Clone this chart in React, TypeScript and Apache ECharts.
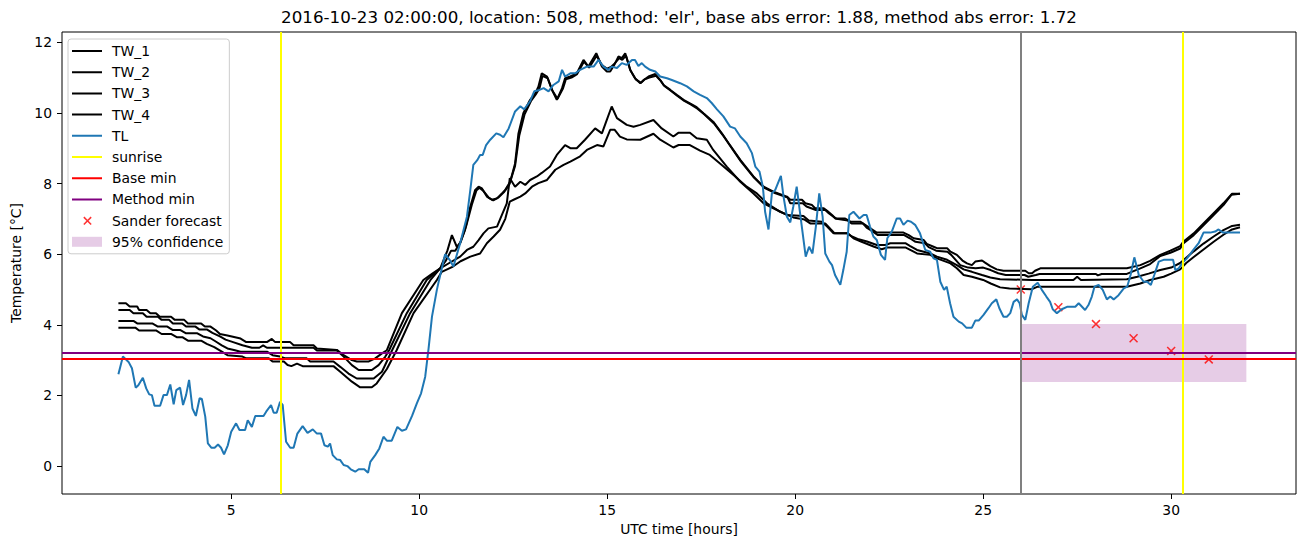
import React, { useEffect, useRef } from 'react';
import * as echarts from 'echarts';

const titleText = "2016-10-23 02:00:00, location: 508, method: 'elr', base abs error: 1.88, method abs error: 1.72";
const xTicks = [5, 10, 15, 20, 25, 30];
const yTicks = [0, 2, 4, 6, 8, 10, 12];

const tw1 = [[2,4.61],[2.2,4.61],[2.3,4.52],[2.5,4.52],[2.55,4.42],[2.75,4.42],[2.85,4.33],[3.0,4.33],[3.1,4.23],[3.4,4.23],[3.5,4.14],[3.75,4.14],[3.85,4.04],[4.2,4.04],[4.3,3.95],[4.45,3.95],[4.6,3.84],[4.7,3.74],[4.9,3.7],[5.25,3.61],[5.4,3.51],[5.95,3.51],[6.08,3.6],[6.17,3.51],[6.57,3.51],[6.66,3.42],[7.19,3.42],[7.28,3.33],[7.81,3.29],[7.99,3.14],[8.21,3.0],[8.34,2.96],[8.65,2.96],[8.83,3.05],[9.01,3.19],[9.14,3.28],[9.54,4.33],[10.11,5.27],[10.35,5.45],[10.56,5.6],[10.75,6.1],[10.87,6.54],[11.0,6.21],[11.09,6.31],[11.22,6.69],[11.36,7.35],[11.49,7.82],[11.58,7.91],[11.67,7.86],[11.8,7.63],[11.93,7.54],[12.07,7.58],[12.2,7.72],[12.29,7.82],[12.42,8.05],[12.55,8.57],[12.64,9.42],[12.77,9.99],[12.95,10.37],[13.09,10.56],[13.17,10.74],[13.26,11.12],[13.4,11.03],[13.53,10.65],[13.66,10.37],[13.8,10.7],[13.88,10.98],[14.02,11.03],[14.19,11.12],[14.37,11.5],[14.5,11.31],[14.71,11.69],[14.86,11.31],[14.99,11.17],[15.08,11.17],[15.19,11.36],[15.3,11.6],[15.39,11.55],[15.48,11.69],[15.61,11.22],[15.74,10.98],[15.88,10.84],[15.97,10.93],[16.1,11.03],[16.28,11.1],[16.41,10.93],[16.5,10.79],[16.68,10.65],[16.85,10.51],[17.03,10.37],[17.2,10.27],[17.38,10.16],[17.56,9.99],[17.82,9.75],[18.05,9.42],[18.23,9.14],[18.54,8.67],[18.89,8.2],[19.16,7.91],[19.42,7.77],[19.78,7.63],[19.87,7.54],[20.18,7.54],[20.27,7.44],[20.45,7.39],[20.53,7.3],[20.76,7.3],[20.85,7.23],[20.98,7.11],[21.07,7.01],[21.33,7.01],[21.47,6.92],[21.73,6.92],[21.86,6.83],[22.0,6.73],[22.17,6.61],[22.88,6.61],[23.02,6.54],[23.15,6.45],[23.42,6.4],[23.5,6.29],[23.68,6.21],[23.77,6.17],[24.04,6.17],[24.13,6.07],[24.3,5.98],[24.45,5.82],[24.57,5.74],[24.7,5.69],[24.79,5.79],[24.97,5.82],[25.05,5.76],[25.19,5.66],[25.36,5.57],[25.54,5.53],[26.12,5.53],[26.21,5.46],[26.3,5.46],[26.38,5.53],[26.52,5.6],[28.82,5.6],[29.18,5.69],[29.44,5.81],[29.71,5.98],[29.98,6.1],[30.24,6.23],[30.33,6.36],[30.6,6.59],[30.86,6.87],[31.13,7.16],[31.39,7.44],[31.62,7.71],[31.83,7.71]];

const tw2 = [[2,4.42],[2.3,4.42],[2.4,4.33],[2.65,4.33],[2.75,4.23],[3.05,4.23],[3.15,4.14],[3.35,4.14],[3.45,4.04],[3.7,4.04],[3.8,3.95],[4.05,3.95],[4.15,3.87],[4.35,3.87],[4.5,3.77],[4.7,3.67],[4.85,3.58],[5.05,3.51],[5.3,3.42],[5.55,3.35],[5.75,3.35],[5.85,3.42],[5.95,3.35],[7.19,3.35],[7.28,3.27],[7.81,3.27],[7.99,3.1],[8.21,2.86],[8.39,2.72],[8.74,2.72],[8.92,2.86],[9.1,3.1],[9.2,3.28],[9.67,4.33],[10.2,5.27],[10.56,5.6],[10.7,5.8],[10.85,6.1],[10.96,6.1],[11.1,6.35],[11.25,6.8],[11.4,7.4],[11.52,7.8],[11.6,7.88],[11.7,7.8],[11.85,7.6],[11.97,7.52],[12.1,7.6],[12.25,7.75],[12.4,7.98],[12.55,8.5],[12.66,9.35],[12.8,9.95],[12.97,10.33],[13.1,10.52],[13.2,10.7],[13.28,11.05],[13.42,10.98],[13.55,10.62],[13.68,10.4],[13.82,10.68],[13.9,10.95],[14.05,11.0],[14.2,11.1],[14.38,11.45],[14.52,11.28],[14.72,11.62],[14.86,11.35],[15.0,11.25],[15.1,11.3],[15.2,11.4],[15.32,11.55],[15.4,11.5],[15.5,11.62],[15.62,11.2],[15.76,10.95],[15.9,10.85],[16.0,10.95],[16.12,11.0],[16.3,11.05],[16.43,10.9],[16.52,10.76],[16.7,10.62],[16.87,10.48],[17.05,10.34],[17.22,10.24],[17.4,10.12],[17.58,9.96],[17.84,9.7],[18.07,9.38],[18.25,9.1],[18.56,8.62],[18.91,8.16],[19.18,7.88],[19.44,7.74],[19.8,7.6],[19.87,7.44],[20.2,7.44],[20.3,7.35],[20.55,7.25],[20.8,7.25],[20.9,7.15],[21.1,7.0],[21.4,6.95],[21.5,6.87],[21.8,6.87],[21.9,6.75],[22.05,6.65],[22.2,6.54],[22.9,6.54],[23.05,6.45],[23.2,6.35],[23.45,6.31],[23.55,6.2],[23.75,6.1],[24.05,6.07],[24.15,5.98],[24.39,5.69],[24.6,5.62],[24.8,5.6],[25.0,5.62],[25.2,5.55],[25.4,5.46],[25.6,5.41],[26.1,5.41],[26.2,5.36],[26.4,5.41],[26.5,5.44],[28.0,5.44],[28.05,5.4],[28.15,5.44],[28.82,5.44],[29.18,5.6],[29.44,5.72],[29.71,5.95],[29.98,6.04],[30.24,6.16],[30.33,6.31],[30.6,6.54],[30.86,6.82],[31.13,7.11],[31.39,7.39],[31.6,7.68],[31.83,7.71]];

const tw3 = [[2,4.11],[2.4,4.11],[2.5,4.04],[2.9,4.04],[3.05,3.95],[3.3,3.95],[3.45,3.85],[3.65,3.85],[3.8,3.76],[4.1,3.76],[4.25,3.67],[4.45,3.62],[4.6,3.52],[4.75,3.42],[4.9,3.33],[5.1,3.28],[5.25,3.24],[5.95,3.24],[6.1,3.14],[6.3,3.1],[6.45,3.05],[7.01,3.05],[7.1,2.96],[7.72,2.96],[7.9,2.81],[8.12,2.62],[8.34,2.48],[8.79,2.48],[9.01,2.67],[9.28,3.28],[9.76,4.33],[10.3,5.27],[10.56,5.6],[10.8,5.75],[11.09,5.93],[11.27,6.12],[11.44,6.21],[11.58,6.4],[11.71,6.59],[11.84,6.73],[12.07,6.78],[12.2,7.11],[12.33,7.44],[12.41,8.15],[12.55,7.91],[12.69,8.05],[12.82,7.96],[12.95,8.1],[13.13,8.2],[13.26,8.3],[13.48,8.48],[13.66,8.81],[13.88,9.09],[14.02,9.0],[14.19,9.0],[14.41,9.24],[14.68,9.56],[14.86,9.42],[14.99,9.8],[15.12,10.18],[15.26,9.85],[15.52,9.66],[15.7,9.61],[15.88,9.66],[16.23,9.8],[16.45,9.56],[16.76,9.33],[16.9,9.44],[17.2,9.44],[17.38,9.28],[17.65,9.24],[17.82,8.95],[18.18,8.48],[18.54,8.05],[18.89,7.72],[19.16,7.44],[19.42,7.3],[19.78,7.11],[20.22,7.08],[20.36,6.95],[20.71,6.92],[20.85,6.78],[21.02,6.59],[21.38,6.59],[21.51,6.5],[21.69,6.42],[21.91,6.36],[22.17,6.26],[22.4,6.26],[22.53,6.31],[22.93,6.31],[23.06,6.23],[23.24,6.12],[23.42,6.07],[23.59,6.02],[23.77,5.93],[24.04,5.84],[24.3,5.69],[24.48,5.57],[24.7,5.5],[24.97,5.41],[25.19,5.34],[25.45,5.29],[26.3,5.27],[27.4,5.27],[27.5,5.36],[27.6,5.27],[28.82,5.29],[29.1,5.36],[29.4,5.45],[29.71,5.55],[30.0,5.62],[30.24,5.75],[30.4,5.9],[30.6,6.08],[30.86,6.3],[31.13,6.5],[31.39,6.68],[31.62,6.8],[31.83,6.83]];

const tw4 = [[2,3.92],[2.45,3.92],[2.55,3.84],[3.0,3.84],[3.15,3.74],[3.4,3.74],[3.55,3.65],[3.7,3.65],[3.85,3.55],[4.2,3.55],[4.35,3.46],[4.55,3.37],[4.75,3.24],[4.9,3.14],[5.3,3.1],[5.4,3.05],[6.0,3.05],[6.1,2.96],[6.4,2.96],[6.5,2.86],[6.6,2.83],[6.75,2.9],[6.9,2.83],[7.72,2.83],[7.9,2.67],[8.21,2.39],[8.43,2.23],[8.74,2.23],[8.87,2.34],[9.14,2.75],[9.4,3.28],[9.85,4.33],[10.47,5.27],[10.6,5.5],[10.9,5.65],[11.1,5.8],[11.36,5.93],[11.62,6.02],[11.8,6.31],[11.98,6.5],[12.15,6.69],[12.29,7.0],[12.41,7.49],[12.51,7.54],[12.69,7.63],[12.82,7.72],[13.0,7.91],[13.17,8.01],[13.4,8.1],[13.62,8.39],[13.84,8.53],[14.02,8.62],[14.28,8.77],[14.46,8.95],[14.73,9.09],[14.9,9.05],[15.08,9.52],[15.2,9.52],[15.34,9.33],[15.52,9.25],[15.88,9.24],[16.23,9.41],[16.41,9.24],[16.76,9.02],[16.9,9.09],[17.2,9.09],[17.47,8.93],[17.73,8.81],[18.0,8.57],[18.36,8.24],[18.71,7.91],[18.98,7.72],[19.25,7.44],[19.6,7.2],[19.95,7.04],[20.25,6.98],[20.4,6.87],[20.8,6.87],[20.95,6.7],[21.05,6.59],[21.4,6.59],[21.55,6.45],[21.75,6.36],[22.1,6.21],[22.3,6.14],[22.45,6.19],[22.93,6.19],[23.06,6.12],[23.24,6.02],[23.59,5.98],[23.77,5.88],[24.13,5.74],[24.3,5.6],[24.48,5.41],[24.7,5.36],[25.0,5.27],[25.2,5.17],[25.45,5.06],[25.7,5.03],[26.3,5.01],[26.45,5.08],[28.82,5.08],[29.18,5.17],[29.44,5.27],[29.8,5.36],[30.0,5.45],[30.24,5.57],[30.4,5.75],[30.6,5.92],[30.86,6.13],[31.13,6.35],[31.39,6.55],[31.62,6.7],[31.83,6.76]];

const tl = [[2.0,2.6],[2.12,3.1],[2.27,2.95],[2.36,2.77],[2.46,2.22],[2.53,2.29],[2.65,2.5],[2.74,2.2],[2.82,2.03],[2.89,2.01],[2.96,1.71],[3.11,1.71],[3.2,2.01],[3.29,2.01],[3.38,2.31],[3.47,1.75],[3.54,2.15],[3.64,2.22],[3.72,1.73],[3.8,2.01],[3.88,2.44],[3.97,1.63],[4.06,1.42],[4.16,1.92],[4.22,1.9],[4.31,1.4],[4.38,0.64],[4.47,0.52],[4.56,0.52],[4.65,0.61],[4.73,0.52],[4.81,0.33],[4.91,0.59],[5.0,0.97],[5.13,1.21],[5.22,1.02],[5.37,1.02],[5.44,1.3],[5.55,1.11],[5.64,1.42],[5.86,1.42],[5.93,1.54],[6.06,1.73],[6.13,1.51],[6.21,1.51],[6.3,1.82],[6.37,1.73],[6.46,0.69],[6.57,0.52],[6.66,0.52],[6.76,0.92],[6.9,1.13],[7.03,0.94],[7.17,1.04],[7.28,0.92],[7.39,0.92],[7.48,0.59],[7.57,0.55],[7.63,0.64],[7.7,0.31],[7.81,0.19],[7.9,0.17],[7.99,0.03],[8.09,0.0],[8.18,-0.09],[8.3,-0.16],[8.39,-0.09],[8.54,-0.09],[8.64,-0.19],[8.7,0.12],[8.83,0.31],[8.94,0.5],[9.05,0.83],[9.14,0.72],[9.27,0.72],[9.42,1.11],[9.54,1.0],[9.65,1.04],[9.81,1.42],[9.94,1.78],[10.05,2.06],[10.16,2.53],[10.25,3.33],[10.34,4.23],[10.47,4.99],[10.51,5.18],[10.69,6.0],[10.81,5.84],[10.91,5.65],[11.09,6.31],[11.27,7.06],[11.36,7.82],[11.44,8.53],[11.55,8.67],[11.62,8.81],[11.69,8.81],[11.78,9.09],[11.89,9.24],[12.05,9.42],[12.15,9.38],[12.24,9.31],[12.38,9.56],[12.55,10.04],[12.69,10.19],[12.79,10.1],[12.95,10.33],[13.06,10.61],[13.2,10.65],[13.31,10.7],[13.44,10.61],[13.57,10.79],[13.71,10.89],[13.8,11.22],[13.88,11.03],[14.02,11.12],[14.15,11.12],[14.28,11.22],[14.46,11.31],[14.64,11.31],[14.77,11.5],[14.9,11.31],[15.03,11.22],[15.12,11.31],[15.26,11.27],[15.39,11.41],[15.52,11.36],[15.66,11.5],[15.74,11.5],[15.83,11.33],[15.92,11.41],[16.01,11.31],[16.14,11.22],[16.28,11.17],[16.41,11.03],[16.59,10.98],[16.72,10.93],[16.94,10.84],[17.12,10.75],[17.3,10.61],[17.47,10.51],[17.65,10.42],[17.78,10.28],[17.92,10.1],[18.09,9.9],[18.27,9.61],[18.4,9.56],[18.54,9.33],[18.71,9.14],[18.85,8.86],[18.94,8.48],[19.05,8.34],[19.14,7.91],[19.2,7.2],[19.29,6.7],[19.38,7.72],[19.47,7.82],[19.62,8.22],[19.69,7.63],[19.78,7.06],[19.87,6.9],[19.95,7.35],[20.04,7.91],[20.13,7.16],[20.28,5.93],[20.37,6.21],[20.46,6.02],[20.55,6.78],[20.64,7.72],[20.73,7.06],[20.8,6.02],[20.91,5.79],[20.98,5.69],[21.06,5.41],[21.2,5.13],[21.28,5.55],[21.37,6.07],[21.44,7.11],[21.55,7.2],[21.71,7.01],[21.82,7.11],[21.9,7.11],[21.99,6.78],[22.08,6.5],[22.17,6.4],[22.28,5.98],[22.39,5.84],[22.45,6.45],[22.57,6.64],[22.7,7.01],[22.79,7.01],[22.88,6.83],[22.99,6.95],[23.08,6.92],[23.19,6.83],[23.32,6.59],[23.46,6.12],[23.59,6.07],[23.68,5.88],[23.77,5.84],[23.86,5.22],[23.96,4.99],[24.03,5.08],[24.12,4.61],[24.21,4.23],[24.35,4.09],[24.44,4.04],[24.55,3.92],[24.7,3.92],[24.79,4.12],[24.88,4.12],[25.01,4.28],[25.14,4.47],[25.23,4.61],[25.35,4.72],[25.43,4.47],[25.54,4.23],[25.63,4.23],[25.72,4.33],[25.81,4.65],[25.9,4.72],[25.97,4.61],[26.03,4.28],[26.12,4.14],[26.21,4.61],[26.32,5.08],[26.45,5.19],[26.56,4.99],[26.68,4.8],[26.78,4.65],[26.85,4.44],[26.96,4.33],[27.09,4.44],[27.23,4.51],[27.45,4.51],[27.54,4.61],[27.71,4.42],[27.8,4.56],[27.89,4.8],[27.96,5.08],[28.07,5.13],[28.18,4.99],[28.29,4.72],[28.38,4.8],[28.47,4.72],[28.6,4.84],[28.74,5.03],[28.83,5.08],[28.92,5.41],[29.02,5.91],[29.14,5.41],[29.27,5.22],[29.36,5.22],[29.46,5.13],[29.55,5.41],[29.67,5.79],[29.8,5.84],[30.05,5.84],[30.11,5.55],[30.2,5.6],[30.29,5.74],[30.42,5.88],[30.59,6.12],[30.73,6.31],[30.86,6.61],[31.04,6.61],[31.17,6.64],[31.26,6.7],[31.38,6.61],[31.83,6.61]];

const sunriseHours = [6.33, 30.32];
const nowHour = 26;
const baseMin = 3.03;
const methodMin = 3.21;
const forecastHours = [26, 27, 28, 29, 30, 31];
const forecastValues = [5.0, 4.5, 4.02, 3.62, 3.26, 3.02];
const confidenceX = [26, 32];
const confidenceY = [2.38, 4.02];

const FONT = 'DejaVu Sans';
const lineIcon = 'path://M0,0L0,0M0,6H30V8H0ZM35,14L35,14';
const xIcon = 'path://M0,0L0,0M35,14L35,14M11.3,4.1L12.4,3L19.7,10.3L18.6,11.4ZM18.6,3L19.7,4.1L12.4,11.4L11.3,10.3Z';
const rectIcon = 'path://M0,0L0,0M35,14L35,14M0,2H30V12H0Z';
const xSymbol = 'path://M0,1.2L1.2,0L10,8.8L8.8,10ZM8.8,0L10,1.2L1.2,10L0,8.8Z';

function lineSeries(name: string, data: number[][], color: string) {
  return {
    name, type: 'line', data, symbol: 'none', silent: true,
    lineStyle: { color, width: 2 }, itemStyle: { color },
    emphasis: { disabled: true },
  };
}

function markLineSeries(name: string, color: string, marks: any[]) {
  return {
    name, type: 'line', data: [], symbol: 'none', silent: true,
    itemStyle: { color }, lineStyle: { color, width: 2 },
    markLine: {
      silent: true, symbol: ['none', 'none'], label: { show: false },
      lineStyle: { color, width: 2, type: 'solid' },
      emphasis: { disabled: true },
      data: marks,
    },
  };
}

export default function App() {
  const ref = useRef<HTMLDivElement>(null);
  useEffect(() => {
    const chart = echarts.init(ref.current!, null, { renderer: 'svg' });
    const option: any = {
      animation: false,
      backgroundColor: '#ffffff',
      textStyle: { fontFamily: FONT },
      grid: { left: 62, right: 14, top: 32, bottom: 53, show: true, borderColor: '#000', borderWidth: 1, backgroundColor: 'transparent' },
      graphic: [
        { type: 'text', x: 679, y: 17, style: { text: titleText, align: 'center', verticalAlign: 'middle', font: `16.7px "${FONT}"`, fill: '#000' } },
      ],
      xAxis: {
        type: 'value', min: 0.5, max: 33.32,
        name: 'UTC time [hours]', nameLocation: 'middle', nameGap: 27,
        nameTextStyle: { fontSize: 13.9, fontFamily: FONT, color: '#000' },
        axisLine: { show: false, onZero: false },
        axisTick: { show: true, inside: false, length: 5, lineStyle: { color: '#000', width: 1 }, customValues: xTicks },
        axisLabel: { color: '#000', fontSize: 13.9, fontFamily: FONT, margin: 9, customValues: xTicks },
        splitLine: { show: false },
      },
      yAxis: {
        type: 'value', min: -0.79, max: 12.29,
        name: 'Temperature [°C]', nameLocation: 'middle', nameGap: 38,
        nameTextStyle: { fontSize: 13.9, fontFamily: FONT, color: '#000' },
        axisLine: { show: false, onZero: false },
        axisTick: { show: true, inside: false, length: 5, lineStyle: { color: '#000', width: 1 }, customValues: yTicks },
        axisLabel: { color: '#000', fontSize: 13.9, fontFamily: FONT, margin: 10, customValues: yTicks },
        splitLine: { show: false },
      },
      legend: {
        orient: 'vertical', left: 68, top: 39,
        itemWidth: 35, itemHeight: 14, itemGap: 7.2,
        padding: [5, 6, 5, 4],
        backgroundColor: 'rgba(255,255,255,0.8)', borderColor: '#cccccc', borderWidth: 1, borderRadius: 3,
        selectedMode: false,
        textStyle: { fontSize: 13.9, fontFamily: FONT, color: '#000' },
        itemStyle: { borderWidth: 0 },
        data: [
          { name: 'TW_1', icon: lineIcon },
          { name: 'TW_2', icon: lineIcon },
          { name: 'TW_3', icon: lineIcon },
          { name: 'TW_4', icon: lineIcon },
          { name: 'TL', icon: lineIcon },
          { name: 'sunrise', icon: lineIcon },
          { name: 'Base min', icon: lineIcon },
          { name: 'Method min', icon: lineIcon },
          { name: 'Sander forecast', icon: xIcon },
          { name: '95% confidence', icon: rectIcon },
        ],
      },
      series: [
        {
          name: '95% confidence', type: 'line', data: [], symbol: 'none', silent: true,
          itemStyle: { color: 'rgba(128,0,128,0.2)' },
          markArea: {
            silent: true,
            itemStyle: { color: 'rgba(128,0,128,0.2)' },
            data: [[{ xAxis: confidenceX[0], yAxis: confidenceY[0] }, { xAxis: confidenceX[1], yAxis: confidenceY[1] }]],
          },
        },
        lineSeries('TW_1', tw1, '#000000'),
        lineSeries('TW_2', tw2, '#000000'),
        lineSeries('TW_3', tw3, '#000000'),
        lineSeries('TW_4', tw4, '#000000'),
        lineSeries('TL', tl, '#1f77b4'),
        markLineSeries('sunrise', '#ffff00', sunriseHours.map((h) => ({ xAxis: h }))),
        markLineSeries('Base min', '#ff0000', [{ yAxis: baseMin }]),
        markLineSeries('Method min', '#800080', [{ yAxis: methodMin }]),
        markLineSeries('now', '#808080', [{ xAxis: nowHour }]),
        {
          name: 'Sander forecast', type: 'scatter', silent: true,
          symbol: xSymbol, symbolSize: 9,
          itemStyle: { color: '#ff0000' },
          data: forecastHours.map((h, i) => [h, forecastValues[i]]),
        },
      ],
    };
    chart.setOption(option);
    return () => chart.dispose();
  }, []);
  return <div ref={ref} style={{ position: 'fixed', left: 0, top: 0, width: 1310, height: 547 }} />;
}
